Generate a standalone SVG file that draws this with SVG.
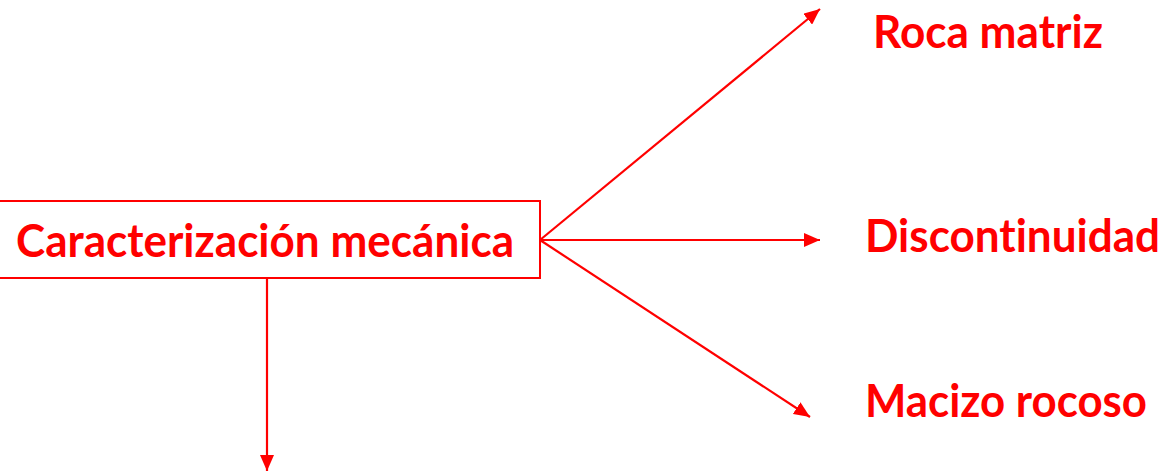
<svg xmlns="http://www.w3.org/2000/svg" width="1169" height="476" viewBox="0 0 1169 476">
  <style>
    .box { fill: #ffffff; stroke: #ff0000; stroke-width: 2; }
    .lbl { font-family: Lato, "Liberation Sans", sans-serif; font-weight: bold; font-size: 45px; fill: #ff0000; font-variant-ligatures: none; }
    .edge { stroke: #ff0000; stroke-width: 2.2; fill: none; marker-end: url(#head); }
  </style>
  <defs>
    <marker id="head" markerUnits="userSpaceOnUse" markerWidth="18" markerHeight="14" refX="16" refY="7" orient="auto">
      <path d="M0,0 L16,7 L0,14 Z" fill="#ff0000"/>
    </marker>
  </defs>
  <rect width="1169" height="476" fill="#ffffff"/>

  <g id="connectors">
    <line class="edge" x1="540" y1="240" x2="820" y2="9"/>
    <line class="edge" x1="540" y1="240" x2="820" y2="240"/>
    <line class="edge" x1="540" y1="240" x2="810" y2="417"/>
    <line class="edge" x1="267" y1="278" x2="267" y2="471"/>
  </g>

  <g id="caracterizacion">
    <rect class="box" x="-2" y="201" width="542" height="77"/>
    <text class="lbl" x="16" y="257" textLength="498" lengthAdjust="spacingAndGlyphs">Caracterización mecánica</text>
  </g>

  <g id="roca-matriz">
    <text class="lbl" x="873" y="48" textLength="230" lengthAdjust="spacingAndGlyphs">Roca matriz</text>
  </g>

  <g id="discontinuidad">
    <text class="lbl" x="865" y="252" textLength="295" lengthAdjust="spacingAndGlyphs">Discontinuidad</text>
  </g>

  <g id="macizo-rocoso">
    <text class="lbl" x="865" y="417" textLength="282" lengthAdjust="spacingAndGlyphs">Macizo rocoso</text>
  </g>
</svg>
